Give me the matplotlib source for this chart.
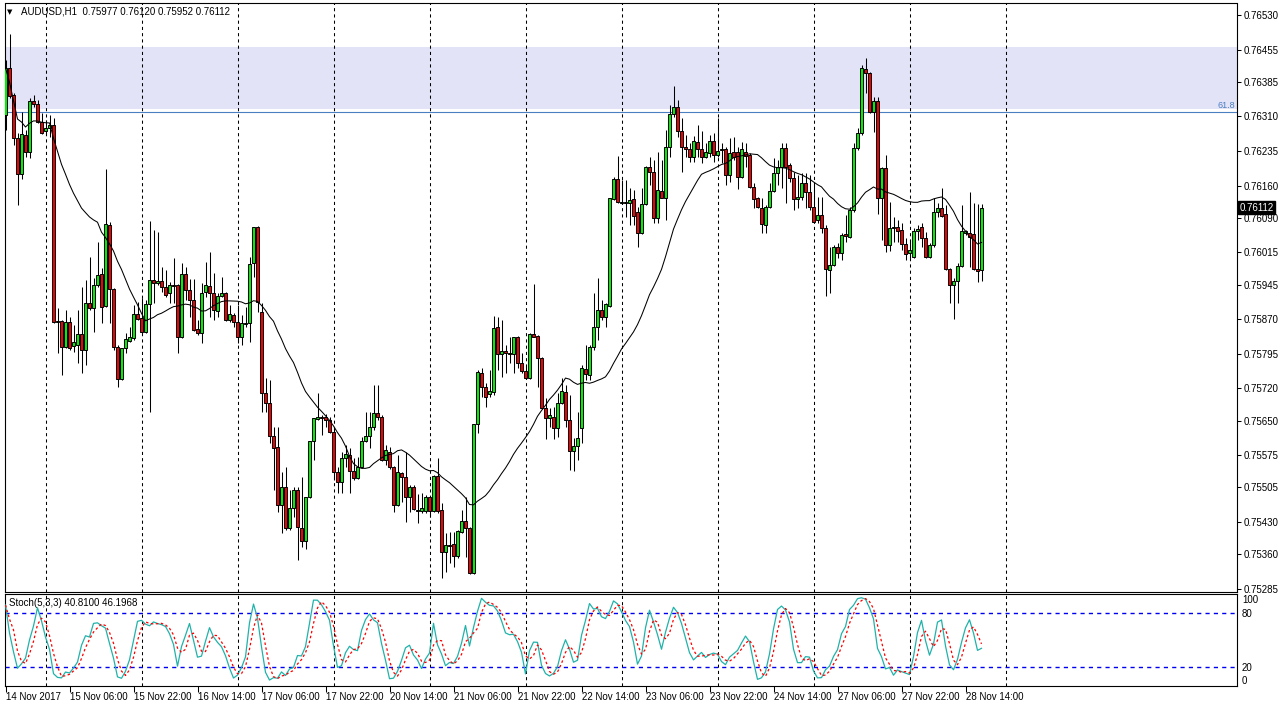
# %% [markdown]
# AUDUSD H1 - candles, SMA(24) and Stochastic(5,3,3) in a MetaTrader-like layout

# %%
import numpy as np
import pandas as pd
import matplotlib
matplotlib.use('Agg')
import matplotlib.pyplot as plt
import matplotlib.transforms as mtransforms

# %%
# 1. DATA
symbol_info = 'AUDUSD,H1  0.75977 0.76120 0.75952 0.76112'
stoch_info = 'Stoch(5,3,3) 40.8100 46.1968'
last_price = 0.76112
zone_top = 0.76461
zone_bottom = 0.76327
fib_618 = 0.76320
fib_label = '61.8'

opens = [
    0.76313, 0.76415, 0.76356, 0.76263, 0.76185, 0.76270, 0.76233, 0.76343, 0.76337, 0.76298,
    0.76278, 0.76285, 0.76291, 0.75864, 0.75866, 0.75809, 0.75864, 0.75811, 0.75814, 0.75838,
    0.75803, 0.75905, 0.75894, 0.75944, 0.75968, 0.75898, 0.76074, 0.75935, 0.75809, 0.75740,
    0.75807, 0.75822, 0.75829, 0.75881, 0.75872, 0.75842, 0.75903, 0.75955, 0.75948, 0.75953,
    0.75940, 0.75927, 0.75944, 0.75944, 0.75831, 0.75968, 0.75933, 0.75912, 0.75849, 0.75840,
    0.75929, 0.75942, 0.75927, 0.75888, 0.75920, 0.75927, 0.75868, 0.75879, 0.75864, 0.75831,
    0.75859, 0.75862, 0.75992, 0.76070, 0.75886, 0.75710, 0.75688, 0.75616, 0.75592, 0.75466,
    0.75505, 0.75417, 0.75460, 0.75499, 0.75417, 0.75389, 0.75484, 0.75605, 0.75653, 0.75657,
    0.75657, 0.75651, 0.75625, 0.75538, 0.75516, 0.75569, 0.75575, 0.75540, 0.75525, 0.75549,
    0.75605, 0.75616, 0.75636, 0.75666, 0.75657, 0.75564, 0.75582, 0.75549, 0.75466, 0.75536,
    0.75527, 0.75484, 0.75505, 0.75456, 0.75454, 0.75454, 0.75484, 0.75454, 0.75530, 0.75456,
    0.75365, 0.75380, 0.75382, 0.75356, 0.75408, 0.75432, 0.75417, 0.75319, 0.75642, 0.75753,
    0.75723, 0.75708, 0.75712, 0.75853, 0.75794, 0.75801, 0.75796, 0.75794, 0.75831, 0.75775,
    0.75758, 0.75742, 0.75838, 0.75834, 0.75786, 0.75677, 0.75655, 0.75657, 0.75634, 0.75688,
    0.75712, 0.75651, 0.75584, 0.75595, 0.75634, 0.75762, 0.75749, 0.75809, 0.75853, 0.75890,
    0.75875, 0.75898, 0.76131, 0.76174, 0.76122, 0.76124, 0.76122, 0.76131, 0.76102, 0.76057,
    0.76120, 0.76200, 0.76189, 0.76089, 0.76148, 0.76133, 0.76243, 0.76315, 0.76330, 0.76278,
    0.76243, 0.76239, 0.76222, 0.76254, 0.76239, 0.76222, 0.76230, 0.76256, 0.76226, 0.76237,
    0.76239, 0.76183, 0.76233, 0.76233, 0.76178, 0.76233, 0.76226, 0.76157, 0.76133, 0.76111,
    0.76074, 0.76113, 0.76148, 0.76187, 0.76200, 0.76241, 0.76205, 0.76176, 0.76131, 0.76135,
    0.76165, 0.76146, 0.76113, 0.76085, 0.76096, 0.76068, 0.75977, 0.75987, 0.76027, 0.76014,
    0.76055, 0.76048, 0.76107, 0.76241, 0.76274, 0.76413, 0.76404, 0.76319, 0.76343, 0.76133,
    0.76198, 0.76031, 0.76068, 0.76070, 0.76063, 0.76033, 0.76014, 0.76005, 0.76061, 0.76070,
    0.76046, 0.76005, 0.76031, 0.76102, 0.76111, 0.76098, 0.75979, 0.75944, 0.75953, 0.75985,
    0.76057, 0.76057, 0.76055, 0.75979, 0.75977,
]

highs = [
    0.76432, 0.76489, 0.76360, 0.76274, 0.76319, 0.76280, 0.76350, 0.76356, 0.76346, 0.76317,
    0.76302, 0.76313, 0.76306, 0.75894, 0.75868, 0.75890, 0.75875, 0.75857, 0.75890, 0.75940,
    0.75955, 0.76005, 0.75959, 0.76037, 0.75981, 0.76196, 0.76080, 0.75938, 0.75814, 0.75807,
    0.75840, 0.75853, 0.75901, 0.75907, 0.75916, 0.75912, 0.76083, 0.76063, 0.76059, 0.75983,
    0.75977, 0.75951, 0.76003, 0.75946, 0.75992, 0.75983, 0.75957, 0.75957, 0.75868, 0.75948,
    0.75994, 0.76016, 0.75970, 0.75927, 0.75961, 0.75929, 0.75901, 0.75883, 0.75901, 0.75879,
    0.75896, 0.76005, 0.76070, 0.76072, 0.75905, 0.75742, 0.75738, 0.75636, 0.75636, 0.75538,
    0.75549, 0.75499, 0.75505, 0.75505, 0.75527, 0.75484, 0.75605, 0.75655, 0.75710, 0.75662,
    0.75664, 0.75657, 0.75636, 0.75549, 0.75582, 0.75597, 0.75590, 0.75569, 0.75571, 0.75614,
    0.75668, 0.75668, 0.75727, 0.75727, 0.75662, 0.75597, 0.75592, 0.75551, 0.75575, 0.75538,
    0.75582, 0.75510, 0.75510, 0.75491, 0.75493, 0.75488, 0.75486, 0.75532, 0.75569, 0.75471,
    0.75406, 0.75408, 0.75408, 0.75412, 0.75456, 0.75484, 0.75419, 0.75642, 0.75760, 0.75764,
    0.75731, 0.75760, 0.75877, 0.75875, 0.75868, 0.75814, 0.75831, 0.75831, 0.75833, 0.75796,
    0.75770, 0.75840, 0.75946, 0.75836, 0.75788, 0.75699, 0.75677, 0.75679, 0.75710, 0.75742,
    0.75727, 0.75705, 0.75612, 0.75668, 0.75770, 0.75814, 0.75814, 0.75927, 0.75959, 0.75912,
    0.75905, 0.76133, 0.76178, 0.76224, 0.76172, 0.76172, 0.76155, 0.76150, 0.76113, 0.76155,
    0.76202, 0.76222, 0.76215, 0.76233, 0.76215, 0.76280, 0.76335, 0.76376, 0.76346, 0.76306,
    0.76270, 0.76252, 0.76267, 0.76291, 0.76278, 0.76252, 0.76270, 0.76274, 0.76306, 0.76252,
    0.76244, 0.76263, 0.76265, 0.76244, 0.76254, 0.76252, 0.76230, 0.76165, 0.76135, 0.76133,
    0.76118, 0.76165, 0.76220, 0.76215, 0.76252, 0.76252, 0.76209, 0.76189, 0.76183, 0.76187,
    0.76187, 0.76183, 0.76168, 0.76135, 0.76135, 0.76074, 0.76027, 0.76031, 0.76035, 0.76057,
    0.76096, 0.76113, 0.76252, 0.76285, 0.76422, 0.76437, 0.76406, 0.76352, 0.76352, 0.76200,
    0.76226, 0.76124, 0.76092, 0.76085, 0.76079, 0.76046, 0.76042, 0.76068, 0.76074, 0.76079,
    0.76059, 0.76035, 0.76133, 0.76122, 0.76155, 0.76118, 0.75981, 0.75959, 0.75992, 0.76118,
    0.76063, 0.76146, 0.76122, 0.76120, 0.76120,
]

lows = [
    0.76280, 0.76350, 0.76248, 0.76118, 0.76174, 0.76222, 0.76220, 0.76330, 0.76296, 0.76272,
    0.76270, 0.76265, 0.75862, 0.75796, 0.75749, 0.75807, 0.75803, 0.75799, 0.75775, 0.75753,
    0.75770, 0.75890, 0.75842, 0.75940, 0.75862, 0.75896, 0.75862, 0.75803, 0.75723, 0.75738,
    0.75796, 0.75820, 0.75825, 0.75868, 0.75840, 0.75840, 0.75668, 0.75905, 0.75945, 0.75929,
    0.75918, 0.75905, 0.75905, 0.75796, 0.75829, 0.75912, 0.75875, 0.75844, 0.75836, 0.75818,
    0.75918, 0.75875, 0.75868, 0.75875, 0.75918, 0.75866, 0.75864, 0.75853, 0.75818, 0.75814,
    0.75853, 0.75820, 0.75961, 0.75886, 0.75668, 0.75668, 0.75601, 0.75499, 0.75452, 0.75406,
    0.75412, 0.75412, 0.75441, 0.75347, 0.75375, 0.75371, 0.75482, 0.75564, 0.75651, 0.75619,
    0.75636, 0.75623, 0.75521, 0.75493, 0.75493, 0.75549, 0.75493, 0.75521, 0.75523, 0.75547,
    0.75603, 0.75590, 0.75629, 0.75651, 0.75562, 0.75553, 0.75545, 0.75452, 0.75464, 0.75473,
    0.75430, 0.75452, 0.75456, 0.75428, 0.75449, 0.75449, 0.75441, 0.75452, 0.75449, 0.75308,
    0.75321, 0.75341, 0.75332, 0.75352, 0.75406, 0.75354, 0.75317, 0.75317, 0.75623, 0.75701,
    0.75679, 0.75701, 0.75705, 0.75760, 0.75744, 0.75753, 0.75775, 0.75753, 0.75764, 0.75753,
    0.75740, 0.75740, 0.75831, 0.75723, 0.75675, 0.75610, 0.75636, 0.75610, 0.75614, 0.75686,
    0.75636, 0.75543, 0.75540, 0.75564, 0.75601, 0.75738, 0.75738, 0.75803, 0.75825, 0.75868,
    0.75853, 0.75896, 0.76129, 0.76122, 0.76120, 0.76092, 0.76074, 0.76074, 0.76027, 0.76055,
    0.76118, 0.76161, 0.76079, 0.76079, 0.76133, 0.76085, 0.76222, 0.76309, 0.76265, 0.76189,
    0.76222, 0.76211, 0.76211, 0.76222, 0.76209, 0.76220, 0.76222, 0.76211, 0.76222, 0.76209,
    0.76161, 0.76168, 0.76215, 0.76152, 0.76176, 0.76200, 0.76155, 0.76111, 0.76111, 0.76057,
    0.76057, 0.76111, 0.76146, 0.76161, 0.76155, 0.76122, 0.76168, 0.76107, 0.76111, 0.76129,
    0.76111, 0.76107, 0.76079, 0.76079, 0.76057, 0.75920, 0.75927, 0.75985, 0.76003, 0.75998,
    0.76037, 0.76046, 0.76102, 0.76237, 0.76270, 0.76361, 0.76317, 0.76276, 0.76098, 0.76042,
    0.76016, 0.76018, 0.76037, 0.76037, 0.76020, 0.75998, 0.76003, 0.76003, 0.76042, 0.76027,
    0.76003, 0.76003, 0.76027, 0.76092, 0.76092, 0.75977, 0.75905, 0.75870, 0.75905, 0.75983,
    0.76053, 0.75983, 0.75977, 0.75951, 0.75952,
]

closes = [
    0.76415, 0.76354, 0.76263, 0.76185, 0.76272, 0.76233, 0.76343, 0.76337, 0.76298, 0.76274,
    0.76285, 0.76291, 0.75864, 0.75866, 0.75809, 0.75864, 0.75807, 0.75820, 0.75838, 0.75803,
    0.75905, 0.75894, 0.75944, 0.75966, 0.75896, 0.76076, 0.75935, 0.75809, 0.75740, 0.75807,
    0.75827, 0.75831, 0.75881, 0.75870, 0.75842, 0.75903, 0.75955, 0.75948, 0.75953, 0.75940,
    0.75922, 0.75944, 0.75942, 0.75831, 0.75968, 0.75933, 0.75912, 0.75846, 0.75840, 0.75927,
    0.75944, 0.75927, 0.75890, 0.75920, 0.75927, 0.75868, 0.75881, 0.75864, 0.75831, 0.75862,
    0.75862, 0.75990, 0.76070, 0.75907, 0.75710, 0.75688, 0.75616, 0.75590, 0.75466, 0.75505,
    0.75417, 0.75460, 0.75499, 0.75419, 0.75389, 0.75484, 0.75605, 0.75655, 0.75657, 0.75655,
    0.75651, 0.75625, 0.75538, 0.75516, 0.75569, 0.75577, 0.75540, 0.75525, 0.75549, 0.75605,
    0.75616, 0.75636, 0.75666, 0.75657, 0.75564, 0.75586, 0.75549, 0.75466, 0.75538, 0.75527,
    0.75484, 0.75505, 0.75458, 0.75454, 0.75460, 0.75484, 0.75454, 0.75530, 0.75454, 0.75365,
    0.75380, 0.75378, 0.75356, 0.75410, 0.75432, 0.75417, 0.75319, 0.75642, 0.75755, 0.75723,
    0.75701, 0.75714, 0.75851, 0.75794, 0.75801, 0.75796, 0.75794, 0.75831, 0.75775, 0.75758,
    0.75742, 0.75838, 0.75831, 0.75786, 0.75677, 0.75655, 0.75662, 0.75634, 0.75688, 0.75714,
    0.75651, 0.75584, 0.75595, 0.75612, 0.75764, 0.75751, 0.75809, 0.75853, 0.75890, 0.75875,
    0.75903, 0.76133, 0.76174, 0.76124, 0.76124, 0.76122, 0.76129, 0.76094, 0.76057, 0.76120,
    0.76200, 0.76189, 0.76089, 0.76150, 0.76133, 0.76243, 0.76315, 0.76330, 0.76278, 0.76243,
    0.76239, 0.76222, 0.76256, 0.76239, 0.76222, 0.76233, 0.76256, 0.76226, 0.76235, 0.76239,
    0.76183, 0.76230, 0.76222, 0.76178, 0.76239, 0.76224, 0.76157, 0.76131, 0.76113, 0.76076,
    0.76113, 0.76148, 0.76187, 0.76200, 0.76241, 0.76200, 0.76176, 0.76131, 0.76135, 0.76165,
    0.76146, 0.76113, 0.76081, 0.76096, 0.76068, 0.75979, 0.75987, 0.76027, 0.76014, 0.76053,
    0.76050, 0.76107, 0.76241, 0.76274, 0.76415, 0.76404, 0.76319, 0.76343, 0.76133, 0.76198,
    0.76031, 0.76068, 0.76070, 0.76061, 0.76033, 0.76011, 0.76020, 0.76061, 0.76066, 0.76046,
    0.76005, 0.76031, 0.76102, 0.76111, 0.76094, 0.75979, 0.75944, 0.75953, 0.75985, 0.76061,
    0.76061, 0.76048, 0.75979, 0.75975, 0.76112,
]

price_ticks = [0.76530, 0.76455, 0.76385, 0.76310, 0.76235, 0.76160, 0.76090, 0.76015, 0.75945,
               0.75870, 0.75795, 0.75720, 0.75650, 0.75575, 0.75505, 0.75430, 0.75360, 0.75285]

date_labels = ['14 Nov 2017', '15 Nov 06:00', '15 Nov 22:00', '16 Nov 14:00', '17 Nov 06:00',
               '17 Nov 22:00', '20 Nov 14:00', '21 Nov 06:00', '21 Nov 22:00', '22 Nov 14:00',
               '23 Nov 06:00', '23 Nov 22:00', '24 Nov 14:00', '27 Nov 06:00', '27 Nov 22:00',
               '28 Nov 14:00']

stoch_levels = [20, 80]
stoch_ticks = [0, 20, 80, 100]

# %%
# 2. INDICATORS
# hourly bars, weekend removed
times = pd.date_range('2017-11-14 14:00', '2017-11-28 18:00', freq='h')
times = times[times.dayofweek < 5]

df = pd.DataFrame({'open': opens, 'high': highs, 'low': lows, 'close': closes}, index=times)
x = np.arange(len(df))

ma = df['close'].rolling(24, min_periods=1).mean()

ll = df['low'].rolling(5, min_periods=1).min()
hh = df['high'].rolling(5, min_periods=1).max()
k_line = 100 * (df['close'] - ll).rolling(3, min_periods=1).sum() / (hh - ll).rolling(3, min_periods=1).sum()
d_line = k_line.rolling(3, min_periods=1).mean()

# day separators (+ the next day, drawn in the empty space on the right)
separators = list(x[times.hour == 0]) + [len(x) + 23 - times[-1].hour]

# %%
# 3. FIGURE
plt.rcParams['font.family'] = ['Liberation Sans', 'DejaVu Sans']
W, H = 1282, 708
fig = plt.figure(figsize=(W / 100, H / 100), dpi=100)
fig.patch.set_facecolor('white')

ax = fig.add_axes([4.5 / W, 1 - 592 / H, 1232 / W, 588.5 / H])
ax2 = fig.add_axes([4.5 / W, 1 - 685.5 / H, 1232 / W, 91.5 / H])

xlim = (-0.25, 307.75)
dash = (0, (3, 3))

# main panel
ax.axhspan(zone_bottom, zone_top, color='#E3E3F7', lw=0, zorder=0)
ax.axhline(fib_618, color='#4A7FC1', lw=0.8, zorder=1)
trans = mtransforms.blended_transform_factory(ax.transAxes, ax.transData)
ax.text(0.9985, fib_618 + 0.00003, fib_label, transform=trans, ha='right', va='bottom',
        fontsize=6.5, color='#4A7FC1')

for s in separators:
    ax.axvline(s, color='black', lw=0.75, ls=dash, zorder=1)
    ax2.axvline(s, color='black', lw=0.75, ls=dash, zorder=1)

up = (df['close'] >= df['open']).values
body_bottom = np.minimum(df['open'], df['close'])
body_height = (df['close'] - df['open']).abs()
ax.vlines(x, df['low'], df['high'], color='black', lw=0.75, zorder=3)
ax.bar(x, body_height, bottom=body_bottom, width=0.75,
       color=np.where(up, '#00F000', '#F00000'), edgecolor='black', linewidth=0.7, zorder=4)
ax.plot(x, ma, color='black', lw=0.75, zorder=5)

ax.set_xlim(*xlim)
ax.set_ylim(0.75278, 0.76555)
ax.set_xticks([])
ax.yaxis.tick_right()
ax.set_yticks(price_ticks)
ax.set_yticklabels([f'{p:.5f}' for p in price_ticks])
ax.tick_params(axis='y', direction='out', length=3, width=0.75, labelsize=7, pad=2)

ax.text(1.0 + 3 / 1232, last_price, f'{last_price:.5f}', transform=trans, ha='left', va='center',
        fontsize=7, color='white',
        bbox=dict(boxstyle='square,pad=0.15', facecolor='black', edgecolor='black'))

fig.text(10 / W, 1 - 12 / H, '\u25bc', fontsize=5, ha='center', va='center', family='DejaVu Sans')
fig.text(21 / W, 1 - 12 / H, symbol_info, fontsize=7, ha='left', va='center')

# stochastic panel
for lvl in stoch_levels:
    ax2.axhline(lvl, color='#0000F0', lw=1.0, ls=dash, zorder=2)
ax2.plot(x, k_line, color='#20B2AA', lw=0.9, zorder=3)
ax2.plot(x, d_line, color='red', lw=0.9, ls=(0, (2, 2)), zorder=4)

ax2.set_xlim(*xlim)
ax2.set_ylim(0, 101)
ax2.yaxis.tick_right()
ax2.set_yticks(stoch_ticks)
ax2.set_yticklabels([str(t) for t in stoch_ticks])
ax2.tick_params(axis='y', length=0, labelsize=7, pad=4)
ylabels = ax2.get_yticklabels()
ylabels[0].set_va('bottom')
ylabels[-1].set_va('top')

ax2.set_xticks(x[::16])
ax2.set_xticklabels(date_labels)
ax2.tick_params(axis='x', direction='out', length=4, width=0.75, labelsize=7, pad=1)
for lab in ax2.get_xticklabels():
    lab.set_ha('left')

fig.text(9 / W, 1 - 603 / H, stoch_info, fontsize=7, ha='left', va='center')

for a in (ax, ax2):
    for sp in a.spines.values():
        sp.set_linewidth(0.8)
        sp.set_color('black')

fig.savefig('out.png', dpi=100)
